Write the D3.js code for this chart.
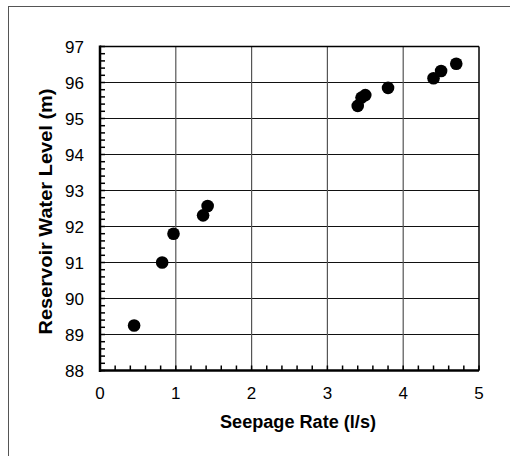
<!DOCTYPE html>
<html><head><meta charset="utf-8">
<script src="https://cdn.jsdelivr.net/npm/d3@7"></script>
<style>body{margin:0;background:#fff}svg{display:block}</style>
</head><body>
<svg id="c" width="510" height="456"></svg>
<script>
const seepage = [0.45, 0.82, 0.97, 1.36, 1.42, 3.40, 3.45, 3.50, 3.80, 4.40, 4.50, 4.70];
const level   = [89.25, 91.0, 91.8, 92.31, 92.57, 95.35, 95.58, 95.65, 95.85, 96.12, 96.32, 96.52];
const xTicks = [0, 1, 2, 3, 4, 5];
const yTicks = [88, 89, 90, 91, 92, 93, 94, 95, 96, 97];
const xTitle = "Seepage Rate (l/s)";
const yTitle = "Reservoir Water Level (m)";

const svg = d3.select("#c");
const font = "Liberation Sans, Arial, sans-serif";
const x = d3.scaleLinear().domain([0, 5]).range([100, 479]);
const y = d3.scaleLinear().domain([88, 97]).range([370.5, 46.5]);

// outer frame
svg.append("rect").attr("x", 8.5).attr("y", 6.5).attr("width", 540).attr("height", 500)
  .attr("fill", "none").attr("stroke", "#555").attr("stroke-width", 1);

// grid
svg.append("g").selectAll("line").data(yTicks.slice(1, -1)).join("line")
  .attr("x1", x(0)).attr("x2", x(5)).attr("y1", d => y(d)).attr("y2", d => y(d))
  .attr("stroke", "#111").attr("stroke-width", 1);
svg.append("g").selectAll("line").data(xTicks.slice(1, -1)).join("line")
  .attr("x1", d => x(d)).attr("x2", d => x(d)).attr("y1", y(88)).attr("y2", y(97))
  .attr("stroke", "#555").attr("stroke-width", 1.2);

// minor ticks
const xMinor = d3.range(0, 5.001, 0.2);
const yMinor = d3.range(88, 97.001, 0.2);
svg.append("g").selectAll("line").data(xMinor).join("line")
  .attr("x1", d => x(d)).attr("x2", d => x(d)).attr("y1", y(88)).attr("y2", y(88) - 5)
  .attr("stroke", "#000").attr("stroke-width", 1.5);
svg.append("g").selectAll("line").data(yMinor).join("line")
  .attr("x1", x(0)).attr("x2", x(0) + 5).attr("y1", d => y(d)).attr("y2", d => y(d))
  .attr("stroke", "#000").attr("stroke-width", 1.5);

// border
svg.append("line").attr("x1", x(0)).attr("x2", x(5)).attr("y1", y(97)).attr("y2", y(97))
  .attr("stroke", "#000").attr("stroke-width", 1.5);
svg.append("line").attr("x1", x(5)).attr("x2", x(5)).attr("y1", y(97)).attr("y2", y(88))
  .attr("stroke", "#000").attr("stroke-width", 1.5);
svg.append("line").attr("x1", x(0)).attr("x2", x(0)).attr("y1", y(97) - 1).attr("y2", y(88) + 1.5)
  .attr("stroke", "#000").attr("stroke-width", 2.5);
svg.append("line").attr("x1", x(0) - 1).attr("x2", x(5)).attr("y1", y(88)).attr("y2", y(88))
  .attr("stroke", "#000").attr("stroke-width", 2.5);

// tick labels
svg.append("g").selectAll("text").data(xTicks).join("text")
  .attr("x", d => x(d)).attr("y", 399).attr("text-anchor", "middle")
  .attr("font-family", font).attr("font-size", 17).text(d => d);
svg.append("g").selectAll("text").data(yTicks).join("text")
  .attr("x", 84).attr("y", d => y(d) + 6.5).attr("text-anchor", "end")
  .attr("font-family", font).attr("font-size", 17).text(d => d);

// titles
svg.append("text").attr("x", 298).attr("y", 427.5).attr("text-anchor", "middle")
  .attr("font-family", font).attr("font-size", 18).attr("font-weight", "bold")
  .attr("textLength", 156).attr("lengthAdjust", "spacingAndGlyphs").text(xTitle);
svg.append("text").attr("transform", "translate(52,211.5) rotate(-90)").attr("text-anchor", "middle")
  .attr("font-family", font).attr("font-size", 18).attr("font-weight", "bold")
  .attr("textLength", 246).attr("lengthAdjust", "spacingAndGlyphs").text(yTitle);

// points
svg.append("g").selectAll("circle").data(seepage).join("circle")
  .attr("cx", d => x(d)).attr("cy", (d, i) => y(level[i])).attr("r", 6.3).attr("fill", "#000");
</script>
</body></html>
